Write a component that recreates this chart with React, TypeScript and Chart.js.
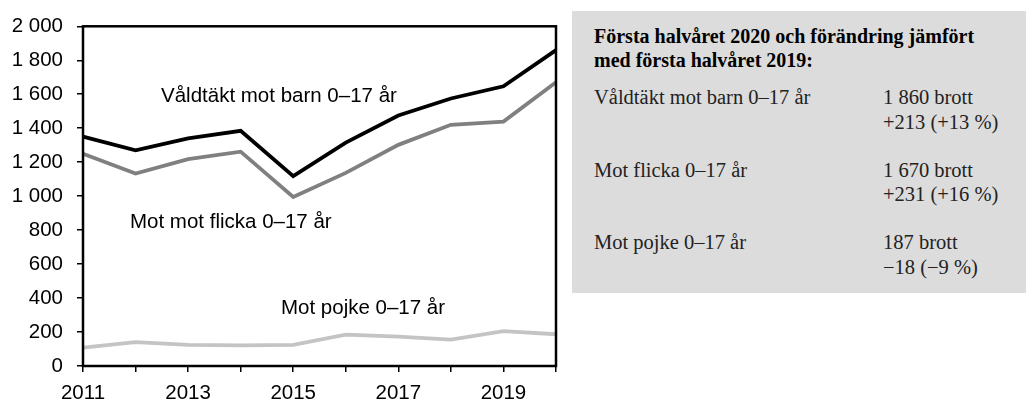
import React, { useEffect, useRef } from "react";
import { Chart, registerables } from "chart.js";

Chart.register(...registerables);

const years = ["2011", "2012", "2013", "2014", "2015", "2016", "2017", "2018", "2019", "2020"];
const barn = [1350, 1270, 1340, 1385, 1118, 1315, 1475, 1575, 1647, 1860];
const flicka = [1250, 1133, 1218, 1262, 995, 1137, 1302, 1420, 1439, 1670];
const pojke = [108, 140, 124, 122, 124, 185, 173, 155, 205, 187];

const seriesNames = ["Våldtäkt mot barn 0–17 år", "Mot mot flicka 0–17 år", "Mot pojke 0–17 år"];
const seriesColors = ["#000000", "#808080", "#c4c4c4"];

const boxTitle = ["Första halvåret 2020 och förändring jämfört", "med första halvåret 2019:"];
const boxRows = [
  { name: "Våldtäkt mot barn 0–17 år", count: "1 860 brott", change: "+213 (+13 %)" },
  { name: "Mot flicka 0–17 år", count: "1 670 brott", change: "+231 (+16 %)" },
  { name: "Mot pojke 0–17 år", count: "187 brott", change: "−18 (−9 %)" },
];

const fmt = (n: number) =>
  n >= 1000 ? `${Math.floor(n / 1000)} ${String(n % 1000).padStart(3, "0")}` : String(n);

const SANS = "'Liberation Sans', Arial, sans-serif";
const SERIF = "'Liberation Serif', 'Times New Roman', serif";
const FS = 20.5;

const framePlugin = {
  id: "frame",
  afterDraw(chart: any) {
    const { ctx, chartArea: a } = chart;
    ctx.save();
    ctx.strokeStyle = "#000";
    ctx.lineWidth = 2.5;
    ctx.strokeRect(a.left, a.top, a.right - a.left, a.bottom - a.top);
    ctx.restore();
  },
};

// series labels, placed relative to the plot area
const labelPlugin = {
  id: "seriesLabels",
  afterDatasetsDraw(chart: any) {
    const { ctx, chartArea: a } = chart;
    const pos = [
      [78, 70],
      [47, 196],
      [198, 282],
    ];
    ctx.save();
    ctx.font = `${FS}px ${SANS}`;
    ctx.fillStyle = "#000";
    ctx.textBaseline = "middle";
    ctx.textAlign = "left";
    seriesNames.forEach((n, i) => ctx.fillText(n, a.left + pos[i][0], a.top + pos[i][1]));
    ctx.restore();
  },
};

export default function App() {
  const ref = useRef<HTMLCanvasElement>(null);
  useEffect(() => {
    if (!ref.current) return;
    const mk = (data: number[], i: number) => ({
      label: seriesNames[i],
      data,
      borderColor: seriesColors[i],
      backgroundColor: seriesColors[i],
      borderWidth: 3.8,
      pointRadius: 0,
      tension: 0,
    });
    const chart = new Chart(ref.current, {
      type: "line",
      data: {
        labels: years,
        datasets: [mk(pojke, 2), mk(flicka, 1), mk(barn, 0)],
      },
      options: {
        animation: false,
        responsive: false,
        layout: { padding: { top: 23, right: 4, left: 0, bottom: 0 } },
        plugins: { legend: { display: false }, tooltip: { enabled: false } },
        scales: {
          x: {
            offset: false,
            border: { display: false },
            grid: { drawOnChartArea: false, drawTicks: true, tickLength: 6, color: "#000", lineWidth: 1.5 },
            ticks: {
              autoSkip: false,
              maxRotation: 0,
              padding: 9,
              color: "#000",
              font: { family: SANS, size: FS },
              callback: (_v: any, i: number) => (i % 2 === 0 ? years[i] : ""),
            },
            afterFit: (s: any) => {
              s.height = 34;
            },
          },
          y: {
            min: 0,
            max: 2000,
            border: { display: false },
            grid: { drawOnChartArea: false, drawTicks: true, tickLength: 6, color: "#000", lineWidth: 1.5 },
            ticks: {
              stepSize: 200,
              padding: 14,
              color: "#000",
              font: { family: SANS, size: FS },
              callback: (v: any) => fmt(Number(v)),
            },
            afterFit: (s: any) => {
              s.width = 83;
            },
          },
        },
      },
      plugins: [framePlugin, labelPlugin],
    } as any);
    return () => chart.destroy();
  }, []);

  return (
    <div style={{ position: "absolute", left: 0, top: 0, width: 1026, height: 400, background: "#fff" }}>
      <canvas ref={ref} width={565} height={400} style={{ position: "absolute", left: 0, top: 0, width: 565, height: 400 }} />
      <div
        style={{
          position: "absolute",
          left: 572,
          top: 11,
          width: 454,
          height: 282,
          background: "#dcdcdc",
          fontFamily: SERIF,
          color: "#222",
        }}
      >
        {boxTitle.map((t, i) => (
          <div
            key={t}
            style={{
              position: "absolute",
              left: 22,
              top: 13 + i * 24,
              fontWeight: "bold",
              fontSize: 20,
              lineHeight: "24px",
              color: "#000",
              whiteSpace: "nowrap",
            }}
          >
            {t}
          </div>
        ))}
        {boxRows.map((r, i) => (
          <React.Fragment key={r.name}>
            <div style={{ position: "absolute", left: 22, top: 74 + i * 72.5, fontSize: 20.5, lineHeight: "24px", whiteSpace: "nowrap" }}>
              {r.name}
            </div>
            <div style={{ position: "absolute", left: 311, top: 74 + i * 72.5, fontSize: 20.5, lineHeight: "24.5px", whiteSpace: "nowrap" }}>
              {r.count}
              <br />
              {r.change}
            </div>
          </React.Fragment>
        ))}
      </div>
    </div>
  );
}
